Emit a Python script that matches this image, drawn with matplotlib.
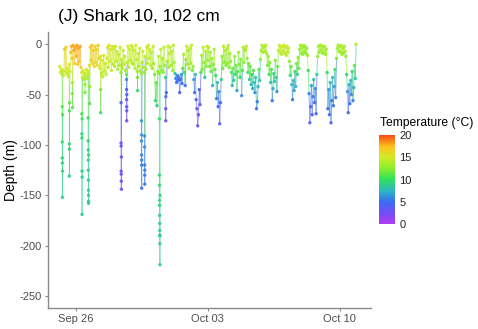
import numpy as np
import pandas as pd
import matplotlib
matplotlib.use('Agg')
import matplotlib.pyplot as plt
import matplotlib.dates as mdates
from matplotlib.collections import LineCollection
from matplotlib.colors import LinearSegmentedColormap, Normalize

plt.rcParams['font.family'] = ['Liberation Sans', 'DejaVu Sans']
plt.rcParams['axes.unicode_minus'] = False

# hourly depth (m) and temperature (C) records, one pair of lists per day
sep25_depth = [-22, -28, -25, -30, -26, -31, -5, -27, -3, -29, -24, -32, -20, -27, -8, -2, -14, -1, -6, -19, -3]
sep25_temp = [15.2, 14.6, 14.9, 14.4, 14.8, 14.3, 16.5, 14.7, 16.8, 14.5, 15.0, 14.2, 15.4, 14.8, 17.2, 17.8, 17.4, 18.0, 17.9, 17.2, 18.0]
sep26_depth = [-12, -1, -20, -4, -17, -2, -23, -28, -33, -26, -35, -29, -31, -25, -34, -27, -30, -21, -3, -16, -1, -19, -6, -22]
sep26_temp = [17.6, 18.1, 17.0, 18.0, 17.3, 18.1, 16.6, 15.0, 14.2, 15.0, 13.8, 14.6, 14.3, 15.1, 14.0, 14.8, 14.5, 16.2, 17.0, 16.5, 17.1, 16.2, 16.9, 16.0]
sep27_depth = [-2, -18, -5, -21, -1, -14, -24, -12, -29, -16, -32, -11, -27, -19, -30, -14, -3, -23, -1, -17, -5, -26, -2, -20]
sep27_temp = [16.8, 16.0, 16.6, 15.8, 16.8, 16.2, 15.0, 15.4, 14.2, 15.0, 13.8, 15.2, 14.4, 14.8, 14.0, 15.0, 15.4, 14.6, 15.5, 14.9, 15.3, 14.3, 15.4, 14.6]
sep28_depth = [-4, -22, -2, -17, -7, -25, -10, -21, -3, -28, -15, -24, -6, -20, -12, -26, -30, -18, -2, -23, -5, -16, -1, -19]
sep28_temp = [14.8, 13.9, 14.9, 14.3, 14.6, 13.6, 14.5, 14.0, 14.8, 12.8, 14.3, 13.7, 14.6, 14.0, 14.4, 13.4, 11.5, 14.1, 14.8, 13.8, 14.7, 14.2, 14.9, 14.0]
sep29_depth = [-3, -20, -6, -24, -1, -15, -27, -9, -22, -4, -26, -29, -18, -7, -23, -28, -12, -25, -3, -19, -1, -14, -5, -21]
sep29_temp = [14.8, 14.1, 14.6, 13.8, 14.9, 14.3, 13.2, 14.6, 13.9, 14.7, 13.4, 12.8, 14.2, 14.6, 13.8, 13.0, 14.4, 13.5, 14.8, 14.2, 14.9, 14.4, 14.7, 14.0]
sep30_depth = [-8, -24, -2, -19, -30, -56, -38, -61, -27, -12, -29, -22, -5, -26, -14, -28, -3, -21, -33, -48, -17, -2, -23, -9]
sep30_temp = [14.3, 13.0, 14.6, 13.4, 12.0, 9.0, 11.2, 8.6, 12.5, 14.0, 12.3, 13.2, 14.4, 12.9, 13.8, 12.4, 14.5, 13.3, 9.0, 4.5, 13.5, 14.5, 13.1, 14.2]
oct01_depth = [-3, -21, -7, -26, -1, -18, -29, -34, -38, -31, -36, -33, -48, -35, -30, -39, -24, -10, -28, -41, -15, -2, -20, -6]
oct01_temp = [14.5, 13.2, 14.2, 12.6, 14.7, 13.4, 8.0, 5.5, 4.8, 5.6, 5.0, 5.2, 4.5, 5.0, 6.5, 4.9, 11.0, 13.8, 10.5, 5.0, 13.2, 14.4, 13.0, 14.1]
oct02_depth = [-24, -4, -19, -1, -26, -22, -35, -48, -30, -55, -64, -81, -70, -45, -60, -28, -11, -25, -3, -18, -33, -7, -22, -2]
oct02_temp = [12.5, 14.2, 13.0, 14.5, 12.0, 12.8, 6.5, 4.2, 8.0, 3.6, 3.0, 2.6, 2.8, 4.0, 3.2, 10.5, 13.6, 12.0, 14.3, 13.0, 8.0, 14.0, 12.4, 14.3]
oct03_depth = [-16, -3, -22, -8, -27, -14, -41, -20, -5, -25, -31, -54, -38, -62, -47, -79, -58, -35, -12, -24, -2, -18, -6, -21]
oct03_temp = [12.8, 14.0, 12.0, 13.6, 11.2, 13.0, 7.2, 12.2, 13.8, 11.5, 9.8, 5.5, 7.8, 4.6, 6.2, 3.4, 4.8, 8.8, 13.0, 11.6, 14.0, 12.4, 13.7, 12.1]
oct04_depth = [-4, -19, -1, -23, -9, -17, -28, -41, -24, -36, -12, -30, -21, -46, -27, -8, -20, -33, -15, -51, -26, -3, -18, -6]
oct04_temp = [13.9, 12.5, 14.1, 12.0, 13.4, 12.7, 10.5, 7.4, 11.6, 8.3, 13.1, 9.8, 11.8, 6.6, 10.8, 13.5, 12.2, 9.2, 12.8, 6.0, 11.0, 14.0, 12.6, 13.7]
oct05_depth = [-5, -2, -14, -28, -19, -35, -22, -40, -30, -44, -26, -38, -48, -33, -64, -57, -42, -25, -36, -15, -6, -1, -8, -3]
oct05_temp = [13.6, 13.9, 12.8, 10.2, 12.0, 8.3, 11.4, 7.5, 9.8, 6.8, 10.9, 7.8, 6.2, 8.6, 4.8, 5.4, 7.2, 11.0, 8.4, 12.6, 13.4, 13.9, 13.3, 13.8]
oct06_depth = [-2, -7, -1, -9, -21, -12, -30, -18, -38, -25, -56, -44, -29, -37, -16, -33, -47, -22, -6, -1, -8, -3, -10, -2]
oct06_temp = [13.9, 13.5, 14.0, 13.3, 11.8, 13.0, 9.8, 12.2, 7.9, 10.8, 5.2, 6.9, 9.6, 8.1, 12.4, 9.0, 6.2, 11.5, 14.4, 14.8, 14.3, 14.7, 14.1, 14.7]
oct07_depth = [-7, -1, -9, -3, -11, -2, -8, -4, -17, -31, -22, -40, -55, -36, -46, -27, -42, -19, -30, -13, -24, -5, -1, -9]
oct07_temp = [14.4, 14.8, 14.2, 14.7, 14.0, 14.8, 14.3, 14.6, 12.5, 9.6, 11.4, 7.6, 5.4, 8.2, 6.6, 10.2, 7.2, 12.0, 9.4, 12.8, 11.0, 13.0, 13.3, 12.7]
oct08_depth = [-3, -10, -1, -7, -2, -9, -4, -11, -26, -49, -78, -62, -41, -70, -52, -35, -58, -44, -69, -30, -12, -2, -8, -1]
oct08_temp = [13.1, 12.6, 13.3, 12.8, 13.2, 12.7, 13.1, 12.5, 10.2, 5.6, 3.8, 4.6, 6.8, 4.2, 5.4, 8.0, 4.9, 6.2, 4.3, 9.0, 12.6, 13.5, 13.1, 13.6]
oct09_depth = [-6, -1, -9, -3, -8, -2, -10, -5, -28, -64, -45, -70, -38, -78, -56, -33, -61, -42, -25, -53, -14, -4, -1, -7]
oct09_temp = [13.3, 13.7, 13.0, 13.5, 13.1, 13.7, 12.9, 13.4, 9.8, 4.7, 6.6, 4.4, 7.6, 3.8, 5.3, 8.5, 4.9, 6.7, 10.4, 5.6, 12.4, 13.4, 13.7, 13.2]
oct10_depth = [-2, -8, -1, -10, -4, -9, -2, -7, -12, -30, -47, -68, -40, -59, -36, -50, -27, -56, -43, -21, -34, 0]
oct10_temp = [13.7, 13.2, 13.8, 13.0, 13.5, 13.1, 13.7, 13.3, 12.6, 9.4, 6.4, 4.4, 7.4, 5.2, 7.9, 5.9, 10.0, 5.4, 6.9, 11.3, 8.4, 14.0]

day_start = ['2020-09-25 03:00', '2020-09-26', '2020-09-27', '2020-09-28', '2020-09-29',
             '2020-09-30', '2020-10-01', '2020-10-02', '2020-10-03', '2020-10-04',
             '2020-10-05', '2020-10-06', '2020-10-07', '2020-10-08', '2020-10-09', '2020-10-10']
day_depth = [sep25_depth, sep26_depth, sep27_depth, sep28_depth, sep29_depth, sep30_depth,
             oct01_depth, oct02_depth, oct03_depth, oct04_depth, oct05_depth, oct06_depth,
             oct07_depth, oct08_depth, oct09_depth, oct10_depth]
day_temp = [sep25_temp, sep26_temp, sep27_temp, sep28_temp, sep29_temp, sep30_temp,
            oct01_temp, oct02_temp, oct03_temp, oct04_temp, oct05_temp, oct06_temp,
            oct07_temp, oct08_temp, oct09_temp, oct10_temp]

# deep dives, sampled every 4 minutes
dive_start = ['2020-09-25 06:10', '2020-09-25 15:10', '2020-09-25 19:10', '2020-09-26 07:10',
              '2020-09-26 11:10', '2020-09-26 15:10', '2020-09-26 17:10', '2020-09-27 07:10',
              '2020-09-28 09:10', '2020-09-28 16:10', '2020-09-29 06:10', '2020-09-29 11:10',
              '2020-09-29 15:10', '2020-09-30 10:05', '2020-09-30 18:10']
dive_depth = [[-62, -97, -113, -118, -152, -126, -70],
              [-66, -99, -131, -104, -58],
              [-49, -63, -38],
              [-69, -89, -93, -126, -169, -132, -74],
              [-48, -40],
              [-73, -96, -105, -115, -125, -135, -145, -150, -156, -158, -110],
              [-59, -42],
              [-68, -45],
              [-58, -98, -101, -126, -129, -136, -144, -112],
              [-35, -45, -55, -62, -76, -66, -50],
              [-46, -33],
              [-76, -90, -96, -110, -120, -143, -115],
              [-91, -102, -120, -130, -139, -125],
              [-74, -130, -140, -155, -160, -170, -178, -185, -190, -198, -219, -190, -150],
              [-64, -76, -52]]
dive_temp = [[11.0, 9.6, 9.3, 9.2, 8.8, 9.1, 10.6],
             [10.6, 9.4, 9.0, 9.3, 11.2],
             [12.2, 10.8, 13.6],
             [10.4, 9.6, 9.5, 9.0, 8.6, 8.9, 10.2],
             [12.0, 13.0],
             [10.1, 9.3, 9.1, 9.0, 8.9, 8.8, 8.7, 8.6, 8.5, 8.5, 9.1],
             [11.0, 12.8],
             [9.8, 12.0],
             [4.2, 2.9, 2.8, 2.5, 2.4, 2.3, 2.2, 2.6],
             [6.0, 4.2, 3.3, 2.9, 2.4, 2.7, 3.6],
             [9.5, 11.8],
             [6.6, 6.2, 6.0, 5.8, 5.6, 5.2, 5.7],
             [6.3, 6.0, 5.7, 5.5, 5.3, 5.6],
             [10.0, 9.4, 9.3, 9.2, 9.1, 9.0, 9.0, 8.9, 8.9, 8.8, 8.6, 8.9, 9.3],
             [3.4, 2.8, 4.0]]

frames = []
for start, d, t in zip(day_start, day_depth, day_temp):
    frames.append(pd.DataFrame({'time': pd.date_range(start, periods=len(d), freq='h'),
                                'depth': d, 'temp': t}))
for start, d, t in zip(dive_start, dive_depth, dive_temp):
    frames.append(pd.DataFrame({'time': pd.date_range(start, periods=len(d), freq='4min'),
                                'depth': d, 'temp': t}))
df = pd.concat(frames).sort_values('time').reset_index(drop=True)

cmap = LinearSegmentedColormap.from_list('temp', [
    (0.0, '#b13cf2'), (0.13, '#6f4ef6'), (0.25, '#3b6cf0'), (0.37, '#2cb7c6'),
    (0.5, '#2fe05c'), (0.62, '#86ee2e'), (0.75, '#d0ec26'), (0.87, '#fdc21e'),
    (1.0, '#fa4a12')])
norm = Normalize(0, 20)

fig = plt.figure(figsize=(4.78, 3.29), dpi=100)
ax = fig.add_axes([0.1004, 0.0638, 0.6757, 0.8398])

x = mdates.date2num(df['time'])
y = df['depth'].values
pts = np.column_stack([x, y])
segs = np.stack([pts[:-1], pts[1:]], axis=1)
lc = LineCollection(segs, cmap=cmap, norm=norm, linewidths=0.7, alpha=0.6, zorder=2)
lc.set_array(df['temp'].values[:-1])
ax.add_collection(lc)
sc = ax.scatter(x, y, c=df['temp'], cmap=cmap, norm=norm, s=6, linewidths=0, alpha=0.9, zorder=3)

ax.set_xlim(mdates.date2num(pd.Timestamp('2020-09-24 12:00')),
            mdates.date2num(pd.Timestamp('2020-10-11 16:00')))
ax.set_ylim(-262, 12.5)
ax.set_yticks([0, -50, -100, -150, -200, -250])
ax.set_xticks(mdates.date2num(pd.to_datetime(['2020-09-26', '2020-10-03', '2020-10-10'])))
ax.xaxis.set_major_formatter(mdates.DateFormatter('%b %d'))
for s in ['top', 'right']:
    ax.spines[s].set_visible(False)
for s in ['left', 'bottom']:
    ax.spines[s].set_color('#8a8a8a')
    ax.spines[s].set_linewidth(1.0)
ax.tick_params(colors='#8a8a8a', labelcolor='#4d4d4d', labelsize=8, length=2.5, width=0.8, pad=2)
ax.set_ylabel('Depth (m)', fontsize=10, labelpad=1)
ax.set_title('(J) Shark 10, 102 cm', fontsize=12.5, loc='left', x=0.03, y=1.01)

cax = fig.add_axes([379 / 478, 1 - 224 / 329, 16 / 478, 89 / 329])
cb = fig.colorbar(sc, cax=cax, ticks=[0, 5, 10, 15, 20])
cb.solids.set_alpha(1)
cb.outline.set_visible(False)
cax.tick_params(length=0, labelsize=8, labelcolor='#222222', pad=3)
fig.text(380 / 478, 1 - 123 / 329, 'Temperature (\u00b0C)', fontsize=8.7, va='center', ha='left')

fig.savefig('out.png', dpi=100)
